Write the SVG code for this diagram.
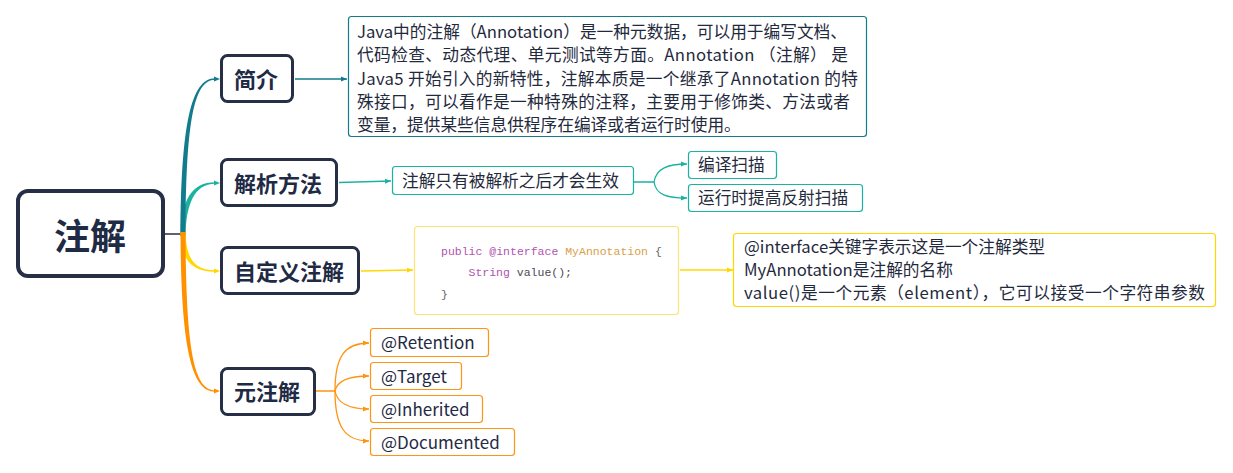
<svg xmlns="http://www.w3.org/2000/svg" xmlns:xlink="http://www.w3.org/1999/xlink" width="1233" height="473" viewBox="0 0 1233 473">
<style>
.main{fill:#fff;stroke:#262f45;stroke-width:3}
.mtxt{font-family:"Noto Sans CJK SC","Noto Sans",sans-serif;font-weight:700;font-size:22px;fill:#1f2a44}
.leaf{fill:#fff;stroke-width:1.2}
.ltxt{font-family:"Noto Sans CJK SC","Noto Sans",sans-serif;font-size:16.7px;fill:#1f2a3d}
.atxt{font-family:"Noto Sans CJK SC","Noto Sans",sans-serif;font-size:17px;fill:#1f2a44}
.code{font-family:"Liberation Mono","DejaVu Sans Mono",monospace;font-size:11.5px}
.ln{fill:none;stroke-width:1.3}
</style>
<defs>
<marker id="aT" viewBox="0 0 6 6" refX="6" refY="3" markerWidth="6" markerHeight="6" markerUnits="userSpaceOnUse" orient="auto"><path d="M0,0.5 L6,3 L0,5.5 Z" fill="#127c8d"/></marker>
<marker id="aG" viewBox="0 0 6 6" refX="6" refY="3" markerWidth="6" markerHeight="6" markerUnits="userSpaceOnUse" orient="auto"><path d="M0,0.5 L6,3 L0,5.5 Z" fill="#1ab3a1"/></marker>
<marker id="aY" viewBox="0 0 6 6" refX="6" refY="3" markerWidth="6" markerHeight="6" markerUnits="userSpaceOnUse" orient="auto"><path d="M0,0.5 L6,3 L0,5.5 Z" fill="#ffd800"/></marker>
<marker id="aO" viewBox="0 0 6 6" refX="6" refY="3" markerWidth="6" markerHeight="6" markerUnits="userSpaceOnUse" orient="auto"><path d="M0,0.5 L6,3 L0,5.5 Z" fill="#ff9412"/></marker>
<path id="ah" d="M-6,-2.5 L0,0 L-6,2.5 Z"/>
</defs>
<rect width="1233" height="473" fill="#fff"/>

<g id="connectors">
  <line x1="165" y1="234" x2="183" y2="234" stroke="#262f45" stroke-width="1.5"/>
  <path d="M180.5,236 C181,200 192,182.3 215,182.3 L215,183.7 C194,183.7 186,205 185.5,236 Z" fill="#1ab3a1"/>
  <path d="M180.5,236 C181,125 191,78.3 215,78.3 L215,79.7 C193,79.7 186,125 185.5,236 Z" fill="#127c8d"/>
  <path d="M180.5,232 C181,258 190,271.7 215,271.7 L215,270.3 C194,270.3 186,258 185.5,232 Z" fill="#ffd800"/>
  <path d="M180.5,232 C181,345 191,391.7 215,391.7 L215,390.3 C193,390.3 186,345 185.5,232 Z" fill="#ff9000"/>
  <use xlink:href="#ah" x="220" y="79" fill="#127c8d"/>
  <use xlink:href="#ah" x="220" y="183" fill="#1ab3a1"/>
  <use xlink:href="#ah" x="220" y="271" fill="#ffd800"/>
  <use xlink:href="#ah" x="220" y="391" fill="#ff9000"/>

  <line class="ln" x1="295" y1="79" x2="347" y2="79" stroke="#127c8d" marker-end="url(#aT)"/>

  <path class="ln" d="M339,182.5 L391,181" stroke="#1ab3a1" marker-end="url(#aG)"/>
  <path class="ln" d="M634,182 L654,182 C656,169 667,164 687,164" stroke="#1ab3a1" marker-end="url(#aG)"/>
  <path class="ln" d="M654,182 C656,195 667,198 687,198" stroke="#1ab3a1" marker-end="url(#aG)"/>

  <path class="ln" d="M361,271 L413,270" stroke="#ffd800" marker-end="url(#aY)"/>
  <path class="ln" d="M680,270 L733,270" stroke="#ffd800" marker-end="url(#aY)"/>

  <path class="ln" d="M316,391 L335,391 C335,356 345,343 369,343" stroke="#ff9412" marker-end="url(#aO)"/>
  <path class="ln" d="M335,391 C337,381 348,376 369,376" stroke="#ff9412" marker-end="url(#aO)"/>
  <path class="ln" d="M335,391 C337,402 348,409 369,409" stroke="#ff9412" marker-end="url(#aO)"/>
  <path class="ln" d="M335,391 C335,427 345,441 369,441" stroke="#ff9412" marker-end="url(#aO)"/>
</g>

<g id="root">
  <rect x="18" y="191" width="145" height="85" rx="10" fill="#fff" stroke="#262f45" stroke-width="4"/>
  <text x="54" y="250" style="font-family:'Noto Sans CJK SC','Noto Sans',sans-serif;font-weight:700;font-size:36px;fill:#1f2a44">注解</text>
</g>

<g id="node-intro">
  <rect class="main" x="221.5" y="55.5" width="71" height="46" rx="6"/>
  <text class="mtxt" x="234" y="87.5">简介</text>
</g>
<g id="node-parse">
  <rect class="main" x="221.5" y="159.5" width="115" height="46" rx="6"/>
  <text class="mtxt" x="234" y="191.5">解析方法</text>
</g>
<g id="node-custom">
  <rect class="main" x="221.5" y="247.5" width="137" height="46" rx="6"/>
  <text class="mtxt" x="234" y="279.5">自定义注解</text>
</g>
<g id="node-meta">
  <rect class="main" x="221.5" y="368.5" width="93" height="46" rx="6"/>
  <text class="mtxt" x="234" y="400">元注解</text>
</g>

<g id="intro-desc">
  <rect class="leaf" x="348.5" y="16.5" width="518" height="120" rx="3" stroke="#127c8d"/>
  <text class="ltxt" x="357" y="38" textLength="490" lengthAdjust="spacing">Java中的注解（Annotation）是一种元数据，可以用于编写文档、</text>
  <text class="ltxt" x="357" y="61.3" textLength="491" lengthAdjust="spacing">代码检查、动态代理、单元测试等方面。Annotation （注解） 是</text>
  <text class="ltxt" x="357" y="84.5" textLength="501" lengthAdjust="spacing">Java5 开始引入的新特性，注解本质是一个继承了Annotation 的特</text>
  <text class="ltxt" x="357" y="107.8" textLength="493" lengthAdjust="spacing">殊接口，可以看作是一种特殊的注释，主要用于修饰类、方法或者</text>
  <text class="ltxt" x="357" y="131">变量，提供某些信息供程序在编译或者运行时使用。</text>
</g>

<g id="parse-desc">
  <rect class="leaf" x="392.5" y="166.5" width="241" height="28" rx="3" stroke="#1ab3a1"/>
  <text class="ltxt" x="402" y="187">注解只有被解析之后才会生效</text>
</g>
<g id="parse-compile">
  <rect class="leaf" x="688.5" y="151.5" width="88" height="27" rx="3" stroke="#1ab3a1"/>
  <text class="ltxt" x="698" y="171">编译扫描</text>
</g>
<g id="parse-runtime">
  <rect class="leaf" x="688.5" y="184.5" width="174" height="27" rx="3" stroke="#1ab3a1"/>
  <text class="ltxt" x="698" y="204">运行时提高反射扫描</text>
</g>

<g id="custom-code">
  <rect class="leaf" x="414.5" y="226.5" width="264" height="88" rx="3" stroke="#fbe27a"/>
  <text class="code" x="441" y="255"><tspan fill="#b054b0">public</tspan><tspan fill="#b054b0" x="489.3">@interface</tspan><tspan fill="#d9a049" x="565.2">MyAnnotation</tspan><tspan fill="#666" x="655">{</tspan></text>
  <text class="code" x="468.5" y="276"><tspan fill="#b054b0">String</tspan><tspan fill="#4a4a55" x="516.8">value();</tspan></text>
  <text class="code" x="441" y="298" fill="#666">}</text>
</g>

<g id="custom-desc">
  <rect class="leaf" x="733.5" y="233.5" width="482" height="73" rx="3" stroke="#ffd800"/>
  <text class="ltxt" x="744" y="253">@interface关键字表示这是一个注解类型</text>
  <text class="ltxt" x="744" y="276">MyAnnotation是注解的名称</text>
  <text class="ltxt" x="744" y="299" textLength="461" lengthAdjust="spacing">value()是一个元素（element），它可以接受一个字符串参数</text>
</g>

<g id="meta-retention">
  <rect class="leaf" x="370.5" y="328.5" width="118" height="28" rx="3" stroke="#ff9412"/>
  <text class="atxt" x="381" y="349">@Retention</text>
</g>
<g id="meta-target">
  <rect class="leaf" x="370.5" y="362.5" width="91" height="27" rx="3" stroke="#ff9412"/>
  <text class="atxt" x="381" y="382.5">@Target</text>
</g>
<g id="meta-inherited">
  <rect class="leaf" x="370.5" y="395.5" width="112" height="27" rx="3" stroke="#ff9412"/>
  <text class="atxt" x="381" y="415.5">@Inherited</text>
</g>
<g id="meta-documented">
  <rect class="leaf" x="370.5" y="428.5" width="144" height="27" rx="3" stroke="#ff9412"/>
  <text class="atxt" x="381" y="448.5">@Documented</text>
</g>
</svg>
